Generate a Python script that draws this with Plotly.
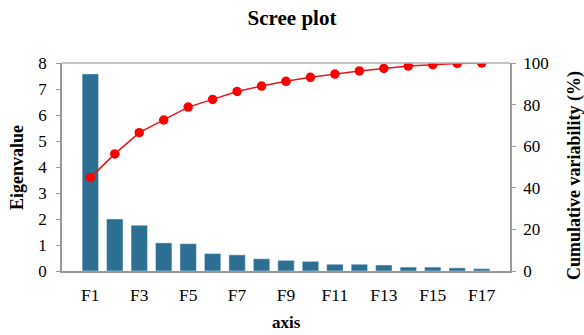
import plotly.graph_objects as go

axes_labels = [f"F{i}" for i in range(1, 18)]
eigenvalues = [7.58, 2.0, 1.76, 1.08, 1.05, 0.67, 0.62, 0.47, 0.41, 0.37,
               0.26, 0.26, 0.23, 0.15, 0.15, 0.12, 0.09]
cumulative = [44.9, 56.3, 66.5, 72.6, 78.8, 82.5, 86.3, 88.9, 91.2, 93.1,
              94.7, 96.2, 97.4, 98.5, 99.2, 99.8, 100.0]
tick_labels = ["F1", "F3", "F5", "F7", "F9", "F11", "F13", "F15", "F17"]

font_family = "Liberation Serif, Times New Roman, serif"
axis_gray = "#999999"

W, H = 584, 335
L, R, T, B = 62, 74, 63, 64

fig = go.Figure()
fig.add_trace(go.Bar(x=axes_labels, y=eigenvalues, marker_color="#2C6F92",
                     yaxis="y", showlegend=False))
fig.add_trace(go.Scatter(x=axes_labels, y=cumulative, yaxis="y2", mode="lines+markers",
                         line=dict(color="#E8141A", width=1.5),
                         marker=dict(color="#FF0000", size=9.5), showlegend=False))

fig.update_layout(
    width=W, height=H,
    margin=dict(l=L, r=R, t=T, b=B, autoexpand=False),
    paper_bgcolor="white", plot_bgcolor="white",
    font=dict(family=font_family, color="black", size=17),
    title=dict(text="<b>Scree plot</b>", x=0.5, xanchor="center", xref="container",
               y=1 - 18 / H, yanchor="middle", yref="container",
               font=dict(size=21, family=font_family)),
    bargap=0.33,
    xaxis=dict(type="category", tickmode="array", tickvals=tick_labels, ticktext=tick_labels,
               showline=True, linecolor=axis_gray, linewidth=1.5, ticks="", showgrid=False,
               automargin=False, tickfont=dict(size=17.5), ticklabelstandoff=7),
    yaxis=dict(range=[0, 8], dtick=1, showline=True, linecolor=axis_gray, linewidth=1.5,
               ticks="outside", ticklen=4, tickcolor=axis_gray, showgrid=False, zeroline=False,
               automargin=False, tickfont=dict(size=17), ticklabelstandoff=6),
    yaxis2=dict(range=[0, 100], dtick=20, overlaying="y", side="right", showline=True,
                linecolor=axis_gray, linewidth=1.5, ticks="outside", ticklen=4, tickcolor=axis_gray,
                showgrid=False, zeroline=False, automargin=False, tickfont=dict(size=17),
                ticklabelstandoff=4),
)
fig.add_shape(type="line", xref="paper", yref="paper", x0=0, x1=1, y0=1, y1=1,
              line=dict(color="#b0b0b0", width=1.5))

pw = W - L - R
ph = H - T - B
def px_x(x):
    return (x - L) / pw
def px_y(y):
    return (H - B - y) / ph

fig.add_annotation(text="<b>axis</b>", xref="paper", yref="paper", x=px_x(286), y=px_y(322),
                   showarrow=False, font=dict(size=17), xanchor="center", yanchor="middle")
fig.add_annotation(text="<b>Eigenvalue</b>", xref="paper", yref="paper", x=px_x(17), y=px_y(168),
                   showarrow=False, font=dict(size=18), textangle=-90,
                   xanchor="center", yanchor="middle")
fig.add_annotation(text="<b>Cumulative variability (%)</b>", xref="paper", yref="paper",
                   x=px_x(574), y=px_y(176), showarrow=False, font=dict(size=18), textangle=-90,
                   xanchor="center", yanchor="middle")

fig.write_html("out.html", config={"displayModeBar": False},
               post_script="document.body.style.margin='0';document.body.style.overflow='hidden';")
